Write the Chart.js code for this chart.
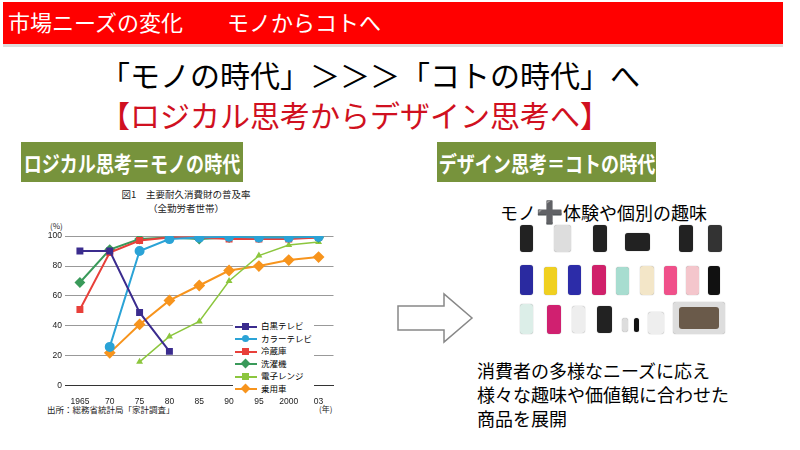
<!DOCTYPE html><html><head><meta charset="utf-8">
<script src="https://cdn.jsdelivr.net/npm/chart.js@4"></script>
<style>
body{margin:0;width:800px;height:450px;position:relative;background:#fff;font-family:"Noto Sans CJK JP",sans-serif;overflow:hidden}
.a{position:absolute;white-space:nowrap}
.g{background:#77933c;color:#fff;font-weight:bold;font-size:22px;line-height:40px}
.g span{position:absolute;left:50%;top:0;transform:translateX(-50%) scaleX(0.82)}
.ph{position:absolute;border-radius:3px}
</style></head><body>
<div class="a" style="left:3px;top:2px;width:780px;height:42px;background:#f00;border-bottom:3px solid #ddd"></div>
<div class="a" style="left:8px;top:6px;color:#fff;font-size:22px;line-height:30px">市場ニーズの変化　　モノからコトへ</div>
<div class="a" style="left:100px;top:55px;font-size:30px;line-height:38px;color:#000">「モノの時代」＞＞＞「コトの時代」へ</div>
<div class="a" style="left:100px;top:95px;font-size:30px;line-height:38px;color:#d01020">【ロジカル思考からデザイン思考へ】</div>
<div class="a g" style="left:21px;top:142px;width:222px;height:40px"><span>ロジカル思考＝モノの時代</span></div>
<div class="a g" style="left:437px;top:142px;width:219px;height:40px"><span>デザイン思考＝コトの時代</span></div>
<div class="a" style="left:116px;top:189px;width:140px;font-size:9.5px;line-height:11px;text-align:center;color:#222">図1　主要耐久消費財の普及率</div>
<div class="a" style="left:116px;top:203px;width:140px;font-size:9.5px;line-height:11px;text-align:center;color:#222">（全勤労者世帯）</div>
<div class="a" style="left:47px;top:403px;font-size:8.5px;color:#222">出所：総務省統計局「家計調査」</div>
<div class="a" style="left:50px;top:221px;font-size:8px;line-height:10px;color:#222">(%)</div>
<div class="a" style="left:319px;top:403px;font-size:8px;color:#222">(年)</div>
<div class="a" style="left:40px;top:228px;width:300px;height:182px"><canvas id="c"></canvas></div>
<div class="a" id="lg" style="left:233px;top:318px;background:#fff;font-size:8.5px;line-height:12.5px;padding:1px 2px"></div>
<svg class="a" style="left:396px;top:292px" width="80" height="52"><path d="M2 14 H48 V2 L76 26 L48 50 V38 H2 Z" fill="#fff" stroke="#888" stroke-width="1.5"/></svg>
<div class="a" style="left:500px;top:194px;font-size:18px;color:#000">モノ<b style="font-size:22px">➕</b>体験や個別の趣味</div>
<div id="phones"></div>
<div class="a" style="left:477px;top:358px;font-size:18px;line-height:24px;color:#000">消費者の多様なニーズに応え<br>様々な趣味や価値観に合わせた<br>商品を展開</div>
<script>
const years=['1965','70','75','80','85','90','95','2000','03'];
const bwTV=[90,90,49,23,null,null,null,null,null];
const colorTV=[null,26,90,98,99,99.5,99,99,99.5];
const fridge=[51,89,97,99,99,98,98,98,99];
const washer=[69,91,98,99,98,99,99,99,99];
const microwave=[null,null,16,33,43,70,87,94,96];
const car=[null,22,41,57,67,77,80,84,86];
const names=['白黒テレビ','カラーテレビ','冷蔵庫','洗濯機','電子レンジ','乗用車'];
const cols=['#3b2c8e','#2ba3d6','#e8403a','#3a9a5a','#8cc63e','#f7941d'];
const shapes=['rect','circle','rect','rectRot','triangle','rectRot'];
const rad=[3.5,4,3.5,4,2.5,4.5];
const vals=[bwTV,colorTV,fridge,washer,microwave,car];
const ds=vals.map((v,i)=>({label:names[i],data:v,borderColor:cols[i],backgroundColor:cols[i],pointStyle:shapes[i],pointRadius:rad[i],borderWidth:i==4?1.5:2,spanGaps:false}));
document.getElementById('lg').innerHTML=names.map((n,i)=>`<div><span style="display:inline-block;width:22px;height:2px;background:${cols[i]};vertical-align:middle;position:relative;margin-right:4px"><span style="position:absolute;left:7px;top:-3px;width:7px;height:7px;background:${cols[i]};border-radius:${i==1?'50%':'0'};${i==3||i==5?'transform:rotate(45deg)':''}"></span></span>${n}</div>`).join('');
new Chart(document.getElementById('c'),{type:'line',data:{labels:years,datasets:ds},
options:{responsive:true,maintainAspectRatio:false,animation:false,layout:{padding:{top:6,right:3}},
plugins:{legend:{display:false},tooltip:{enabled:false}},
scales:{x:{offset:true,grid:{display:false},border:{color:'#333'},ticks:{color:'#222',font:{size:8.5},padding:3}},
y:{min:0,max:100,afterFit:s=>{s.width=25},ticks:{stepSize:20,color:'#222',font:{size:8.5}},grid:{color:'#999',drawTicks:false},border:{display:false}}}}});
const ph=[[520,225,13,27,'#222'],[554,225,17,27,'#ddd'],[593,225,14,27,'#222'],[625,233,25,18,'#222'],[679,225,14,27,'#222'],[708,225,14,27,'#333'],
[520,265,13,30,'#2a2aa0'],[544,267,13,28,'#f0d020'],[568,265,13,30,'#2c2ca8'],[592,265,14,30,'#d0206a'],[616,267,13,28,'#a8ddd0'],[640,266,14,29,'#f3e6c8'],[664,266,13,29,'#f0508a'],[686,266,13,29,'#f4c6cc'],[708,266,12,29,'#111'],
[520,304,13,30,'#dceee8'],[547,305,14,29,'#d02070'],[572,306,13,27,'#eee'],[597,306,15,27,'#222'],[622,318,6,14,'#ddd'],[634,318,5,14,'#111'],[648,312,16,22,'#eee'],[673,302,52,32,'#ddd']];
document.getElementById('phones').innerHTML=ph.map(p=>`<div class="ph" style="left:${p[0]}px;top:${p[1]}px;width:${p[2]}px;height:${p[3]}px;background:${p[4]};box-shadow:0 0 1px #888"></div>`).join('')+`<div class="ph" style="left:679px;top:307px;width:40px;height:22px;background:#6a5a4a"></div>`;
</script></body></html>
